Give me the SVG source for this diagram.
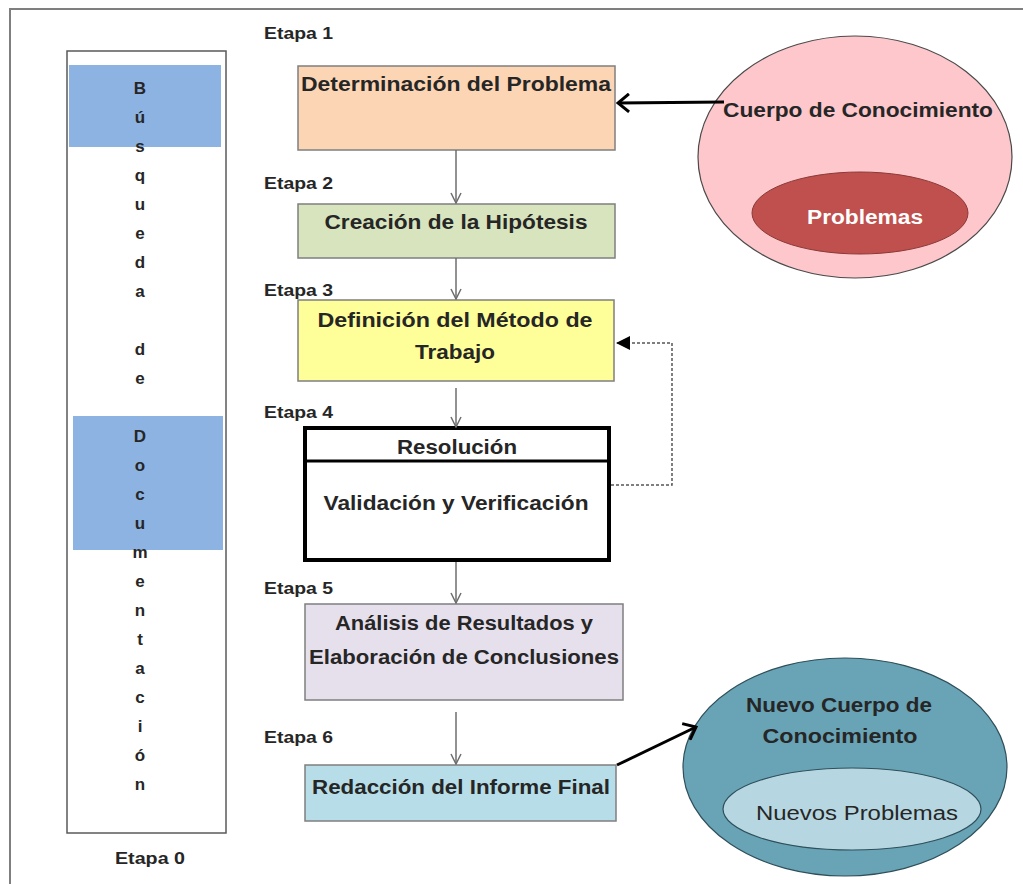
<svg xmlns="http://www.w3.org/2000/svg" width="1023" height="884" viewBox="0 0 1023 884">
<style>
text{font-family:"Liberation Sans",Arial,sans-serif;font-weight:bold;fill:#262626}
.lbl{font-size:17px}
.box{stroke:#7f7f7f;stroke-width:1.5}
.t{font-size:20px;text-anchor:middle}
.v{font-size:17px;text-anchor:middle}
.conn{stroke:#6e6e6e;stroke-width:1.5;fill:none}
.thick{stroke:#000;stroke-width:3;fill:none}
</style>
<defs>
<marker id="vopen" viewBox="0 0 12 12" refX="11" refY="6" markerWidth="12" markerHeight="12" markerUnits="userSpaceOnUse" orient="auto">
<path d="M1,1 L11,6 L1,11" fill="none" stroke="#6e6e6e" stroke-width="1.5"/>
</marker>
<marker id="bopen" viewBox="0 0 14 20" refX="12" refY="10" markerWidth="14" markerHeight="20" markerUnits="userSpaceOnUse" orient="auto">
<path d="M1,1 L12,10 L1,19" fill="none" stroke="#000" stroke-width="3"/>
</marker>
<marker id="tri" viewBox="0 0 14 14" refX="13" refY="7" markerWidth="14" markerHeight="14" markerUnits="userSpaceOnUse" orient="auto">
<path d="M0,0 L14,7 L0,14 z" fill="#000"/>
</marker>
</defs>
<rect width="1023" height="884" fill="#fff"/>
<polyline points="10,890 10,9 1023,9" fill="none" stroke="#7f7f7f" stroke-width="2"/>

<g id="etapa0">
<rect x="67" y="51" width="159" height="782" fill="#fff" stroke="#5a5a5a" stroke-width="1.5"/>
<rect x="69" y="65" width="152" height="82" fill="#8db3e2"/>
<rect x="73" y="416" width="150" height="134" fill="#8db3e2"/>
<text x="140" y="94" class="v">B</text>
<text x="140" y="123" class="v">ú</text>
<text x="140" y="152" class="v">s</text>
<text x="140" y="181" class="v">q</text>
<text x="140" y="210" class="v">u</text>
<text x="140" y="239" class="v">e</text>
<text x="140" y="268" class="v">d</text>
<text x="140" y="297" class="v">a</text>
<text x="140" y="355" class="v">d</text>
<text x="140" y="384" class="v">e</text>
<text x="140" y="442" class="v">D</text>
<text x="140" y="471" class="v">o</text>
<text x="140" y="500" class="v">c</text>
<text x="140" y="529" class="v">u</text>
<text x="140" y="558" class="v">m</text>
<text x="140" y="587" class="v">e</text>
<text x="140" y="616" class="v">n</text>
<text x="140" y="645" class="v">t</text>
<text x="140" y="674" class="v">a</text>
<text x="140" y="703" class="v">c</text>
<text x="140" y="732" class="v">i</text>
<text x="140" y="761" class="v">ó</text>
<text x="140" y="790" class="v">n</text>
<text x="150" y="864" class="lbl" text-anchor="middle" textLength="70" lengthAdjust="spacingAndGlyphs">Etapa 0</text>
</g>

<g id="labels">
<text x="264" y="39" class="lbl" textLength="69" lengthAdjust="spacingAndGlyphs">Etapa 1</text>
<text x="264" y="189" class="lbl" textLength="69" lengthAdjust="spacingAndGlyphs">Etapa 2</text>
<text x="264" y="296" class="lbl" textLength="69" lengthAdjust="spacingAndGlyphs">Etapa 3</text>
<text x="264" y="418" class="lbl" textLength="69" lengthAdjust="spacingAndGlyphs">Etapa 4</text>
<text x="264" y="594" class="lbl" textLength="69" lengthAdjust="spacingAndGlyphs">Etapa 5</text>
<text x="264" y="743" class="lbl" textLength="69" lengthAdjust="spacingAndGlyphs">Etapa 6</text>
</g>

<g id="etapa1">
<rect x="298" y="66" width="317" height="84" fill="#fcd5b5" class="box"/>
<text x="456" y="91" class="t" textLength="310" lengthAdjust="spacingAndGlyphs">Determinación del Problema</text>
</g>
<g id="etapa2">
<rect x="298" y="204" width="317" height="54" fill="#d7e4bd" class="box"/>
<text x="456" y="229" class="t" textLength="263" lengthAdjust="spacingAndGlyphs">Creación de la Hipótesis</text>
</g>
<g id="etapa3">
<rect x="298" y="300" width="316" height="81" fill="#ffff99" class="box"/>
<text x="455" y="327" class="t" textLength="275" lengthAdjust="spacingAndGlyphs">Definición del Método de</text>
<text x="455" y="359" class="t" textLength="80" lengthAdjust="spacingAndGlyphs">Trabajo</text>
</g>
<g id="etapa4">
<rect x="305" y="428" width="304" height="132" fill="#fff" stroke="#000" stroke-width="4"/>
<line x1="305" y1="461" x2="609" y2="461" stroke="#000" stroke-width="3"/>
<text x="457" y="454" class="t" textLength="120" lengthAdjust="spacingAndGlyphs">Resolución</text>
<text x="456" y="510" class="t" textLength="265" lengthAdjust="spacingAndGlyphs">Validación y Verificación</text>
</g>
<g id="etapa5">
<rect x="305" y="604" width="318" height="96" fill="#e6e0ec" class="box"/>
<text x="464" y="630" class="t" textLength="258" lengthAdjust="spacingAndGlyphs">Análisis de Resultados y</text>
<text x="464" y="664" class="t" textLength="310" lengthAdjust="spacingAndGlyphs">Elaboración de Conclusiones</text>
</g>
<g id="etapa6">
<rect x="305" y="765" width="311" height="56" fill="#b7dee8" class="box"/>
<text x="461" y="794" class="t" textLength="298" lengthAdjust="spacingAndGlyphs">Redacción del Informe Final</text>
</g>

<g id="cuerpo">
<ellipse cx="855" cy="157" rx="157" ry="121" fill="#fdc7cc" stroke="#4a4a4a" stroke-width="1.2"/>
<ellipse cx="860" cy="213" rx="108" ry="41" fill="#c0504d" stroke="#8a3a38" stroke-width="1"/>
<text x="858" y="117" class="t" textLength="270" lengthAdjust="spacingAndGlyphs">Cuerpo de Conocimiento</text>
<text x="865" y="224" class="t" style="fill:#fff" textLength="116" lengthAdjust="spacingAndGlyphs">Problemas</text>
</g>

<g id="nuevo">
<ellipse cx="845" cy="767" rx="162" ry="109" fill="#68a4b6" stroke="#2f4f5a" stroke-width="1.2"/>
<ellipse cx="852" cy="809" rx="129" ry="41" fill="#b6d7e1" stroke="#2f4f5a" stroke-width="1.2"/>
<text x="839" y="712" class="t" textLength="186" lengthAdjust="spacingAndGlyphs">Nuevo Cuerpo de</text>
<text x="840" y="743" class="t" textLength="155" lengthAdjust="spacingAndGlyphs">Conocimiento</text>
<text x="857" y="820" class="t" style="font-weight:normal" textLength="202" lengthAdjust="spacingAndGlyphs">Nuevos Problemas</text>
</g>

<g id="connectors">
<line x1="456" y1="150" x2="456" y2="203" class="conn" marker-end="url(#vopen)"/>
<line x1="456" y1="258" x2="456" y2="299" class="conn" marker-end="url(#vopen)"/>
<line x1="456" y1="388" x2="456" y2="427" class="conn" marker-end="url(#vopen)"/>
<line x1="456" y1="562" x2="456" y2="603" class="conn" marker-end="url(#vopen)"/>
<line x1="456" y1="712" x2="456" y2="764" class="conn" marker-end="url(#vopen)"/>
<polyline points="611,485 672,485 672,343 617,343" fill="none" stroke="#555" stroke-width="1.5" stroke-dasharray="3,2" marker-end="url(#tri)"/>
<line x1="724" y1="102" x2="618" y2="103" class="thick" marker-end="url(#bopen)"/>
<line x1="617" y1="765" x2="696" y2="727" class="thick" marker-end="url(#bopen)"/>
</g>
</svg>
